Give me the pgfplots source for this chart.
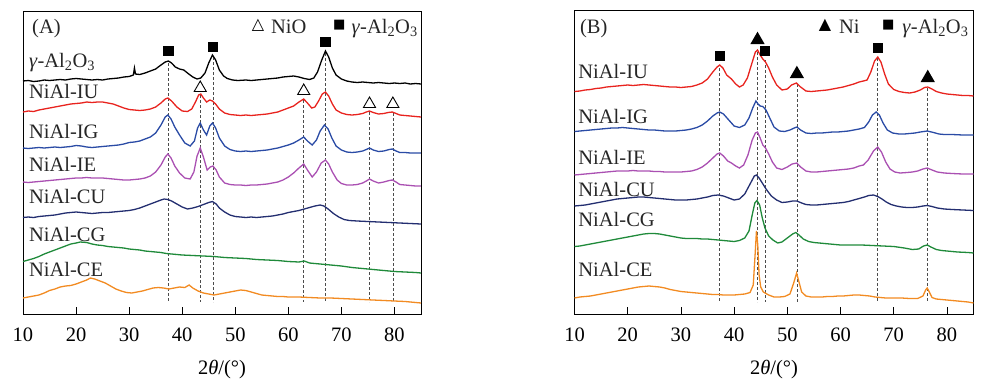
\documentclass[border=0pt]{standalone}
\usepackage{fontspec}
\setmainfont{Liberation Serif}
\newfontfamily\sym{DejaVu Sans}
\usepackage{pgfplots}
\pgfplotsset{compat=1.18}
\definecolor{cred}{HTML}{E8231E}
\definecolor{cblue}{HTML}{2A4BA5}
\definecolor{cmag}{HTML}{AA50B2}
\definecolor{cnavy}{HTML}{232E70}
\definecolor{cgreen}{HTML}{1F8A3A}
\definecolor{corange}{HTML}{F28B22}
\tikzset{
  lab/.style={anchor=base west, inner sep=0pt, text=black!85},
  dl/.style={densely dashed, line width=0.6pt, gray!60!black},
}
\pgfplotsset{
  xrd/.style={
    scale only axis, xmin=10, xmax=85, y dir=reverse,
    xtick={10,20,...,80}, ytick=\empty, xtick pos=bottom,
    tick align=inside, major tick length=7pt,
    axis line style={line width=0.9pt}, every tick/.style={line width=0.8pt, black},
    /pgf/number format/assume math mode=true,
    xticklabel style={anchor=center, yshift=-21pt},
    xlabel={2\textit{θ}/(°)},
    xlabel style={at={(axis description cs:0.5,0)}, anchor=center, yshift=-56pt},
    every axis plot/.append style={line width=1.3pt, mark=none},
    clip=false,
  },
}
\begin{document}
\begin{tikzpicture}[font=\fontsize{20.5}{24}\selectfont]
\path[use as bounding box] (0,0) rectangle (997pt,-386pt);
% ---------------- Panel A ----------------
\begin{axis}[xrd, at={(23pt,-11pt)}, anchor=north west, width=398pt, height=303pt, ymin=11, ymax=314]
% dashed lines
\addplot[dl] coordinates {(37.4,63) (37.4,302)};
\addplot[dl] coordinates {(43.4,95) (43.4,302)};
\addplot[dl] coordinates {(45.8,57) (45.8,302)};
\addplot[dl] coordinates {(62.9,100) (62.9,302)};
\addplot[dl] coordinates {(67.0,53) (67.0,302)};
\addplot[dl] coordinates {(75.3,112) (75.3,302)};
\addplot[dl] coordinates {(79.7,113) (79.7,302)};
% gamma-Al2O3
\addplot[black] coordinates {(10,81)(11,80.5)(12,81.5)(13,81)(14,80)(15,80.5)(16,80)(17,79.5)(18,80)(19,79)(20,78.5)(21,79)(22,79.5)(23,80)(24,79.5)(25,80)(26,79)(27,78.5)(28,78)(29,77)(30,76.5)(30.8,75)(31,68)(31.2,74)(32,74.5)(33,73)(34,71)(35,69)(36,65)(36.8,62)(37.4,61)(38,63)(38.7,67)(39.5,69)(40.3,70)(41,73)(42,77)(42.8,79)(43.5,78)(44.3,73)(45,63)(45.7,55)(46.3,60)(47,70)(47.8,76)(48.5,78.5)(49.5,80)(50.5,80.5)(52,80)(53,80.5)(54,80)(55,79.5)(56,79)(57,78.5)(58,78)(59,77)(60,76.5)(61,76)(62,77)(63,78.5)(64,79.5)(64.8,78)(65.5,72)(66.3,60)(67,51)(67.6,57)(68.3,68)(69,75)(70,79)(71,81)(72,82)(73,82.5)(74,82)(75,82.5)(76,83)(77,82.5)(78,83)(79,83.5)(80,83)(81,83.5)(82,83)(83,84)(84,83.5)(85,84)};
% NiAl-IU
\addplot[cred] coordinates {(10,112)(11,111)(12,111.5)(13,110)(14,109)(15,108)(16,107)(17,106)(18,105)(19,104)(20,103.5)(21,103)(22,102)(23,102.5)(24,102)(25,102)(26,103)(27,104)(28,106)(29,108)(30,109.5)(31,110)(32,110.5)(33,110)(34,109)(35,107)(36,103)(36.8,99)(37.3,98)(38,101)(39,107)(40,111)(41,111.5)(41.8,109)(42.5,102)(43.1,95)(43.5,94)(44,98)(44.6,102)(45.2,100)(45.7,101)(46.3,104)(47,109)(48,113)(49,114.5)(50,115)(51,115.5)(52,115)(53,115.5)(54,115)(55,114.5)(56,114)(57,113)(58,112)(59,110)(60,108)(61,106)(62,102)(62.9,99)(63.6,103)(64.4,108)(65,107)(65.7,101)(66.4,94)(67,92)(67.6,96)(68.3,104)(69,110)(70,113)(71,114.5)(72,115)(73,114.5)(74,113.5)(74.7,112)(75.3,111)(76,112.5)(77,114)(78,113.5)(78.8,112.5)(79.6,112)(80.3,113.5)(81,115)(82,115.5)(83,116)(84,116.5)(85,117)};
% NiAl-IG
\addplot[cblue] coordinates {(10,148)(11,148.5)(12,148)(13,147.5)(14,148)(15,147.5)(16,147)(17,147.5)(18,147)(19,146.5)(20,145.5)(21,146)(22,147)(23,147.5)(24,147)(25,146.5)(26,146)(27,145.5)(28,145)(29,144)(30,142.5)(31,142)(32,141)(33,139)(34,137)(35,133)(36,125)(36.8,117)(37.3,115)(37.9,119)(38.6,127)(39.5,135)(40.5,143)(41.5,146)(42.3,141)(42.9,128)(43.4,123)(44,130)(44.6,135)(45.2,126)(45.7,123)(46.3,128)(47,138)(48,146)(49,149.5)(50,151)(51,151.5)(52,151)(53,151.5)(54,151)(55,150.5)(56,150)(57,149)(58,148)(59,146.5)(60,145)(61,143)(62,140)(62.9,137)(63.6,141)(64.5,145)(65.3,140)(66,131)(66.8,125)(67.5,129)(68.2,138)(69,146)(70,150)(71,152)(72,152.5)(73,152)(74,151)(74.7,149.5)(75.3,148)(76,150)(77,151.5)(78,151)(79,149.5)(79.6,149)(80.3,151)(81,152.5)(82,152.5)(83,153)(84,153)(85,153)};
% NiAl-IE
\addplot[cmag] coordinates {(10,182)(11,182.5)(12,182)(13,181.5)(14,181)(15,180.5)(16,180)(17,179.5)(18,179)(19,178.5)(20,178)(21,178)(22,177.5)(23,178)(24,178)(25,178)(26,178.5)(27,179)(28,179.5)(29,180)(30,180)(31,179.5)(32,179)(33,178)(34,176)(35,172)(36,165)(36.8,157)(37.3,154)(37.9,158)(38.6,166)(39.5,173)(40.5,178)(41.5,179)(42.2,172)(42.8,156)(43.4,148)(44,157)(44.7,170)(45.3,167)(45.8,166)(46.4,170)(47,177)(48,183)(49,184.5)(50,185)(51,185)(52,185.5)(53,185)(54,185)(55,184.5)(56,184)(57,183)(58,182)(59,180)(60,177)(61,173)(62,168)(62.9,164)(63.6,170)(64.5,177)(65.3,172)(66.2,163)(67,160)(67.6,164)(68.3,172)(69.2,180)(70,183.5)(71,185)(72,185)(73,184.5)(74,183)(74.7,181)(75.3,179)(76,181)(77,183)(78,182)(79,180.5)(79.6,180)(80.3,182)(81,184.5)(82,185)(83,185.5)(84,186)(85,186)};
% NiAl-CU
\addplot[cnavy] coordinates {(10,217.5)(11,217)(12,217.5)(13,216.5)(14,216)(15,215.5)(16,215)(17,214)(18,213)(19,212.5)(20,212)(21,212.5)(22,213)(23,213.5)(24,213)(25,212.5)(26,212.5)(27,212)(28,211.5)(29,211)(30,210.5)(31,209.5)(32,208)(33,206)(34,204)(35,202)(36,200)(36.6,199)(37.3,199.5)(38,201)(39,204)(40,207)(41,209)(42,208)(43,206.5)(44,204.5)(45,202.5)(45.7,201.5)(46.4,204)(47,208)(48,212)(49,215)(50,216.5)(51,217)(52,217.5)(53,217)(54,217.5)(55,217)(56,216.5)(57,216)(58,215)(59,214)(60,212.5)(61,211.5)(62,210.5)(63,209)(64,207.5)(65,206)(66,205)(66.7,206)(67.5,209)(68.5,213.5)(69.5,217)(70.5,219.5)(71.5,220.5)(73,221)(75,221.5)(77,222)(79,222.5)(81,223)(83,223.5)(85,224)};
% NiAl-CG
\addplot[cgreen] coordinates {(10,261.5)(11,260)(12,258.5)(13,256.5)(14,254)(15,252)(16,250)(17,248)(18,246)(19,244)(20,243)(20.8,242)(22,242.5)(23,244)(24,245)(25,245.5)(26,246.5)(27,247)(28,247.5)(29,248)(30,249)(31,249.5)(32,250)(33,251)(34,251.5)(35,252)(36,252.5)(37,253.5)(38,254)(39,254.5)(40,255)(42,255.5)(44,256)(46,256.5)(48,257.5)(50,258)(52,258.5)(54,259.5)(56,260)(58,260.5)(60,261.5)(62,262)(63,261)(64,263)(66,264)(68,265)(70,266)(72,267.5)(74,268.5)(76,269.5)(78,270.5)(80,271.5)(82,272)(84,272.5)(85,273)};
% NiAl-CE
\addplot[corange] coordinates {(10,298)(11,297)(12,296)(13,295)(14,293)(15,290.5)(16,289)(17,287)(18,286)(19,285.5)(20,284)(21,282)(22,280)(22.7,278)(23.5,279)(24.5,281)(25.5,283)(26.5,286)(27.5,289)(28.5,291)(29.5,292.5)(30.5,293)(31.5,292)(32.5,291)(33.5,289.5)(34.5,288)(35.5,287.5)(36.5,288)(37.5,289)(38.5,288)(39.5,287)(40.5,287.5)(41.3,285)(42,288)(43,291)(44,293)(45,294)(46,295)(47,294)(48,293)(49,292)(50,291)(51,290)(52,290.5)(53,292)(54,293.5)(55,295)(56,295.5)(57,296)(58,296.5)(59,296.5)(60,297)(62,297)(64,297.5)(66,298)(68,298)(70,298.5)(72,299)(74,299.5)(76,300)(78,300.5)(80,301)(82,301.5)(84,302.5)(85,303)};
% markers
\addplot[only marks, mark=square*, mark size=4.5pt, black] coordinates {(37.4,51) (45.8,47) (67,42)};
\addplot[only marks, mark=triangle, mark size=7pt, black, mark options={line width=0.9pt}] coordinates {(43.4,88) (62.9,91) (75.3,104) (79.7,104)};
% labels
\node[lab] at (axis cs:11.1,67) {\textit{γ}-Al\textsubscript{2}O\textsubscript{3}};
\node[lab] at (axis cs:11.1,98.3) {NiAl-IU};
\node[lab] at (axis cs:11.1,138.3) {NiAl-IG};
\node[lab] at (axis cs:11.1,171.7) {NiAl-IE};
\node[lab] at (axis cs:11.1,203.3) {NiAl-CU};
\node[lab] at (axis cs:11.1,241.7) {NiAl-CG};
\node[lab] at (axis cs:11.1,276.7) {NiAl-CE};
\node[lab] at (axis cs:11.7,33) {(A)};
\node at (axis cs:54.3,25) {\sym\fontsize{16}{16}\selectfont △};
\node[lab] at (axis cs:56.7,33) {NiO};
\node at (axis cs:69.6,25) {\sym\fontsize{13}{13}\selectfont ■};
\node[lab] at (axis cs:71.9,33) {\textit{γ}-Al\textsubscript{2}O\textsubscript{3}};
\end{axis}
% ---------------- Panel B ----------------
\begin{axis}[xrd, at={(574.5pt,-10pt)}, anchor=north west, width=399pt, height=304pt, ymin=10, ymax=314]
\addplot[dl] coordinates {(37.3,68) (37.3,302)};
\addplot[dl] coordinates {(44.3,52) (44.3,302)};
\addplot[dl] coordinates {(45.8,60) (45.8,302)};
\addplot[dl] coordinates {(51.8,84) (51.8,302)};
\addplot[dl] coordinates {(67.0,58) (67.0,302)};
\addplot[dl] coordinates {(76.3,88) (76.3,302)};
% NiAl-IU
\addplot[cred] coordinates {(10,91.5)(11,91)(12,90)(13,89.5)(14,88.5)(15,88)(16,87)(17,86.5)(18,86)(19,85.5)(20,85)(21,85.5)(22,85)(23,84.5)(24,85)(25,85.5)(26,86)(27,86.5)(28,87)(29,87)(30,87.5)(31,87)(32,86.5)(33,85)(34,83)(35,79)(36,72)(36.8,67)(37.3,65)(37.9,68)(38.6,75)(39.5,79)(40.3,84)(41,87)(41.7,85)(42.5,78)(43.3,64)(44,52)(44.4,50)(44.9,55)(45.4,59)(45.9,62)(46.5,68)(47.2,77)(48,85)(49,90)(50,89)(50.8,85)(51.7,83)(52.5,87)(53.5,91)(54.5,91.5)(55.5,91)(56.5,90.5)(57.5,90)(58.5,89)(59.5,88)(60.5,87)(61.5,85.5)(62.5,84)(63.5,82)(64.3,81)(65,80)(65.7,72)(66.4,61)(67,57)(67.6,62)(68.3,74)(69,84)(70,89.5)(71,91.5)(72,92.5)(73,93)(74,92)(75,90)(75.8,87.5)(76.4,87)(77.2,89)(78,91.5)(79,93)(80,94)(81,94.5)(82,95)(83,95.5)(84,95.5)(85,96)};
% NiAl-IG
\addplot[cblue] coordinates {(10,131.5)(11,131)(12,130.5)(13,130)(14,129.5)(15,129)(16,128.5)(17,128)(18,128)(19,127.5)(20,128)(21,128.5)(22,129)(23,129.5)(24,130)(25,130)(26,130.5)(27,131)(28,131)(29,131)(30,130.5)(31,130)(32,129)(33,127.5)(34,125)(35,121)(36,116)(36.8,113)(37.3,112)(38,114)(39,120)(40,126)(41,127.5)(42,125)(42.8,118)(43.5,108)(44.1,101)(44.5,104)(44.9,106)(45.4,106.5)(46,110)(46.7,118)(47.5,127)(48.5,131)(49.5,131.5)(50.5,130)(51.3,128)(51.8,127)(52.5,130)(53.5,133)(54.5,133.5)(55.5,133)(56.5,133)(57.5,132.5)(58.5,132)(59.5,132)(60.5,131.5)(61.5,131)(62.5,130)(63.5,129)(64.5,127.5)(65.3,122)(66,115)(66.7,112)(67.3,115)(68,123)(68.8,130)(69.8,133)(71,134)(72,134)(73,133.5)(74,133)(75,132)(76.3,131)(77.5,132.5)(78.5,134)(79.5,134.5)(81,134.5)(83,135)(85,135)};
% NiAl-IE
\addplot[cmag] coordinates {(10,175)(11,174.5)(12,174)(13,173.5)(14,173)(15,172.5)(16,172)(17,171.5)(18,171)(19,171)(20,171)(21,170.5)(22,171)(23,171)(24,171)(25,171.5)(26,171.5)(27,172)(28,172)(29,172)(30,172)(31,171.5)(32,171)(33,169.5)(34,167)(35,163)(36,158)(36.8,154)(37.3,153)(38,156)(38.8,161)(39.5,163)(40.3,166)(41,168)(41.8,165)(42.6,155)(43.4,140)(44,133)(44.4,132)(44.9,138)(45.4,145)(45.9,148)(46.5,154)(47.2,162)(48,168)(49,169.5)(50,167)(50.9,164)(51.8,163)(52.5,167)(53.5,171)(54.5,172)(55.5,172)(56.5,171.5)(57.5,171)(58.5,170.5)(59.5,170)(60.5,169.5)(61.5,169)(62.5,168)(63.5,166)(64.3,165)(65.2,160)(66.2,151)(67,147)(67.7,152)(68.5,162)(69.3,169)(70.2,172)(71.2,173)(72.5,172.5)(73.5,172)(74.5,171)(75.5,169)(76.3,168)(77.2,170)(78.2,172)(79.5,173)(81,173.5)(83,174)(85,174)};
% NiAl-CU
\addplot[cnavy] coordinates {(10,206)(11,205.5)(12,205)(13,204)(14,203)(15,202)(16,201)(17,200)(18,199)(19,198.5)(20,198)(21,197.5)(22,197)(23,197)(24,197.5)(25,198)(26,198.5)(27,199)(28,199.5)(29,200)(30,200)(31,200)(32,199.5)(33,199)(34,198)(35,197)(36,195.5)(37,195)(38,196)(39,198)(40,200)(41,199)(42,194)(43,184)(43.8,176)(44.2,175)(44.7,178)(45.3,183)(46,189)(47,196)(48,200)(49,202.5)(50,202)(51,201)(51.8,201)(52.7,203)(53.5,204.5)(54.5,205)(55.5,205)(56.5,204.5)(57.5,204)(58.5,203.5)(59.5,203)(60.5,202.5)(61.5,201.5)(62.5,200)(63.5,198.5)(64.5,197)(65.3,195.5)(66.2,195)(67,196.5)(67.8,199)(68.6,202)(69.5,204.5)(70.5,206)(71.5,207)(72.5,207.5)(73.5,207.5)(74.5,207)(75.5,206)(76.3,205.5)(77.2,206.5)(78.2,208)(79.5,209)(81,209.5)(83,210)(85,210.5)};
% NiAl-CG
\addplot[cgreen] coordinates {(10,246.5)(11,246)(12,245)(13,244)(14,243)(15,242)(16,241)(17,240)(18,239)(19,238)(20,237)(21,236)(22,235)(23,234)(24,233.5)(25,233.5)(26,234)(27,235)(28,236)(29,237)(30,238)(31,238.5)(32,238.5)(33,238.5)(34,239)(35,239)(36,239.5)(37,240)(38,240.5)(39,241)(40,241.5)(41,240.5)(42,238)(42.8,231)(43.4,215)(43.9,203)(44.3,200.5)(44.8,205)(45.3,218)(45.8,228)(46.5,236)(47.3,240)(48.2,243)(49,242)(50,238)(51,234)(51.6,232.5)(52.2,235)(53,239)(54,241.5)(55,242.5)(56,243)(57,243.5)(58,244)(59,244.5)(60,245)(62,245)(64,245)(66,245.5)(68,246)(70,246.5)(72,248)(73.5,249.5)(74.7,249)(75.6,246)(76.3,245)(77,247)(78,249.5)(79,250.5)(80,251)(82,252)(84,252.5)(85,253)};
% NiAl-CE
\addplot[corange] coordinates {(10,298)(11,297)(12,296.5)(13,296)(14,295)(15,294)(16,293)(17,292)(18,291)(19,290)(20,289)(21,288)(22,287)(23,286.5)(24,286)(25,286.5)(26,287)(27,288)(28,289.5)(29,290.5)(30,291.5)(31,292)(32,292.5)(33,293)(34,293.5)(35,294)(36,294.5)(37,294.5)(38,295)(39,295)(40,295)(41,294.5)(42,294)(43,292.5)(43.6,285)(44,250)(44.2,231)(44.45,245)(44.7,275)(45,287)(45.5,292)(46.5,295)(47.5,297)(48.5,297)(49.5,296.5)(50.5,294)(51.2,283)(51.75,273)(52.2,282)(52.7,292)(53.5,296)(54.5,297)(55.5,297)(56.5,297)(57.5,296.5)(58.5,296.5)(59.5,296)(60.5,296)(61.5,295.5)(62.5,295)(63.5,295)(64.5,295.5)(65.5,296)(66.5,297)(67.5,297.5)(68.5,298)(70,298)(71.5,298)(73,298.5)(74.5,298.5)(75.5,296)(76,290)(76.3,288)(76.7,292)(77.2,297.5)(78,299)(79,299.5)(80,300)(82,301)(84,302)(85,303)};
% markers
\addplot[only marks, mark=square*, mark size=4.5pt, black] coordinates {(37.3,56) (45.8,51) (67,48)};
\addplot[only marks, mark=triangle*, mark size=7pt, black] coordinates {(44.4,40) (51.8,74) (76.4,78)};
% labels
\node[lab] at (axis cs:10.7,78.3) {NiAl-IU};
\node[lab] at (axis cs:10.7,123.3) {NiAl-IG};
\node[lab] at (axis cs:10.7,164) {NiAl-IE};
\node[lab] at (axis cs:10.7,196.7) {NiAl-CU};
\node[lab] at (axis cs:10.7,226) {NiAl-CG};
\node[lab] at (axis cs:10.7,276) {NiAl-CE};
\node[lab] at (axis cs:11.0,33) {(B)};
\node at (axis cs:57.1,25) {\sym\fontsize{16}{16}\selectfont ▲};
\node[lab] at (axis cs:59.7,33) {Ni};
\node at (axis cs:69.0,25) {\sym\fontsize{13}{13}\selectfont ■};
\node[lab] at (axis cs:71.6,33) {\textit{γ}-Al\textsubscript{2}O\textsubscript{3}};
\end{axis}
\end{tikzpicture}
\end{document}
